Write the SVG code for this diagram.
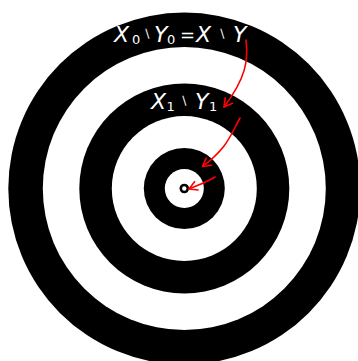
<svg xmlns="http://www.w3.org/2000/svg" width="358" height="361" viewBox="0 0 358 361">
<style>
.lbl{fill:#fff;font-family:"DejaVu Sans","Liberation Sans",sans-serif;}
.v{font-style:italic;font-size:22px;}
.s{font-size:13px;}
.sm{font-size:12px;}
.op{font-size:18px;}
.arr{fill:none;stroke:#f00;stroke-width:1.6;stroke-linecap:round;}
</style>
<defs>
<marker id="ah" markerWidth="12" markerHeight="12" refX="0" refY="0" viewBox="-10 -6 12 12" orient="auto" markerUnits="userSpaceOnUse">
<path d="M-8,-4.5 L0,0 L-8,4.5" fill="none" stroke="#f00" stroke-width="1.6" stroke-linecap="round" stroke-linejoin="round"/>
</marker>
</defs>
<rect width="358" height="361" fill="#fff"/>
<g id="target">
<circle cx="184.3" cy="188.5" r="176" fill="#000"/>
<circle cx="184.3" cy="188.5" r="141.5" fill="#fff"/>
<circle cx="184.3" cy="188.5" r="105" fill="#000"/>
<circle cx="184.3" cy="188.5" r="72.5" fill="#fff"/>
<circle cx="184.3" cy="188.5" r="40.5" fill="#000"/>
<circle cx="184.3" cy="188.5" r="19.5" fill="#fff"/>
<circle cx="184.3" cy="188.5" r="4.8" fill="#000"/>
<circle cx="184.3" cy="188.5" r="2.2" fill="#fff"/>
</g>
<g id="label0">
<text class="lbl" y="42"><tspan class="v" x="114">X</tspan><tspan class="s" x="132" y="44">0</tspan><tspan class="sm" x="143" y="38">∖</tspan><tspan class="v" x="154" y="42">Y</tspan><tspan class="s" x="167" y="44">0</tspan><tspan class="op" x="180" y="41">=</tspan><tspan class="v" x="196" y="42">X</tspan><tspan class="sm" x="218" y="38">∖</tspan><tspan class="v" x="233" y="42">Y</tspan></text>
</g>
<g id="label1">
<text class="lbl" y="108.5"><tspan class="v" x="151">X</tspan><tspan class="s" x="166.5" y="111">1</tspan><tspan class="sm" x="180" y="104.5">∖</tspan><tspan class="v" x="195" y="108.5">Y</tspan><tspan class="s" x="209" y="111">1</tspan></text>
</g>
<g id="connectors">
<path class="arr" d="M246,40 C248.5,60 246,78 224,107" marker-end="url(#ah)"/>
<path class="arr" d="M240,118 C230,136 228,147 202.5,166.5" marker-end="url(#ah)"/>
<path class="arr" d="M215,177 C205,183 196,186 189,189" marker-end="url(#ah)"/>
</g>
</svg>
